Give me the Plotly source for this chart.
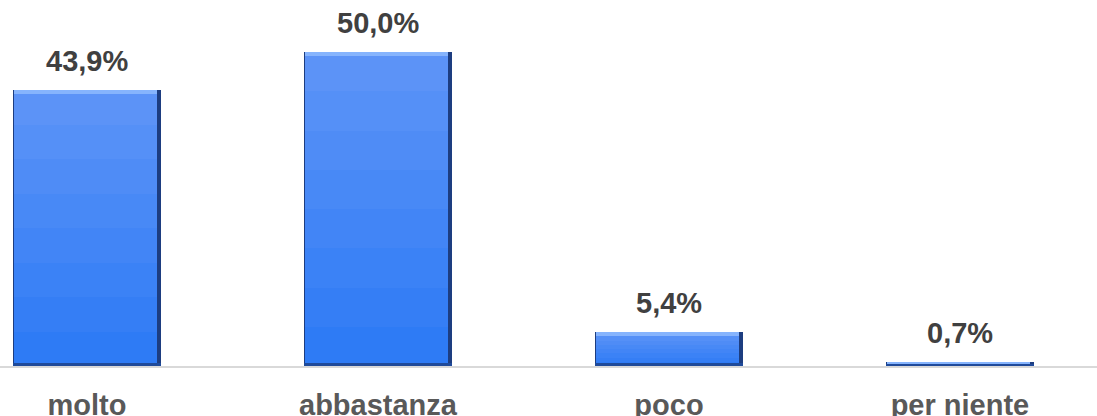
import plotly.graph_objects as go

categories = ["molto", "abbastanza", "poco", "per niente"]
values = [43.9, 50.0, 5.4, 0.7]
value_labels = ["43,9%", "50,0%", "5,4%", "0,7%"]

BAR_W = 0.51
FACE_W = 0.492
BEVEL = 0.6
BOTTOM = 0.45

fig = go.Figure()
# dark edge / shadow
fig.add_trace(go.Bar(
    x=categories, y=values, width=BAR_W,
    marker=dict(color="#1d3d80", line=dict(width=0)),
    hoverinfo="skip", showlegend=False,
))

# face with a vertical gradient (light at the top, deeper blue below)
top_rgb = (92, 147, 247)
bot_rgb = (46, 123, 245)
N = 8
for k in range(N):
    frac = 1 - k / N
    t = k / (N - 1)
    col = "rgb({},{},{})".format(*[round(a + (b - a) * t) for a, b in zip(top_rgb, bot_rgb)])
    fig.add_trace(go.Bar(
        x=categories, y=[v * frac for v in values],
        width=FACE_W, offset=-BAR_W / 2 + 0.004,
        marker=dict(color=col, line=dict(width=0)),
        hoverinfo="skip", showlegend=False,
    ))

# top highlight bevel
fig.add_trace(go.Bar(
    x=categories, y=[min(BEVEL, v * 0.4) for v in values],
    base=[v - min(BEVEL, v * 0.4) for v in values],
    width=FACE_W, offset=-BAR_W / 2 + 0.004,
    marker=dict(color="#86b4fd", line=dict(width=0)),
    hoverinfo="skip", showlegend=False,
))
# bottom dark bevel
fig.add_trace(go.Bar(
    x=categories, y=[min(BOTTOM, v * 0.3) for v in values],
    width=BAR_W, 
    marker=dict(color="#1f4a9a", line=dict(width=0)),
    hoverinfo="skip", showlegend=False,
))

for c, v, t in zip(categories, values, value_labels):
    fig.add_annotation(
        x=c, y=v, text=t, showarrow=False, yanchor="bottom", yshift=11,
        font=dict(family="Arial, Liberation Sans", size=29, color="#404040", weight="bold"),
    )

fig.update_layout(
    width=1097, height=416,
    margin=dict(l=0, r=0, t=0, b=50, autoexpand=False),
    paper_bgcolor="white", plot_bgcolor="white",
    barmode="overlay", bargap=0,
    xaxis=dict(
        range=[-0.299, 3.471], showgrid=False, zeroline=False,
        showline=True, linecolor="#d9d9d9", linewidth=2,
        ticks="", ticklabelstandoff=12, automargin=False,
        tickfont=dict(family="Arial, Liberation Sans", size=29, color="#595959", weight="bold"),
    ),
    yaxis=dict(range=[0, 58.28], visible=False, showgrid=False, zeroline=False, automargin=False),
)

fig.write_html(
    "out.html",
    config={"displayModeBar": False},
    post_script="document.body.style.margin='0';document.body.style.overflow='hidden';",
)
